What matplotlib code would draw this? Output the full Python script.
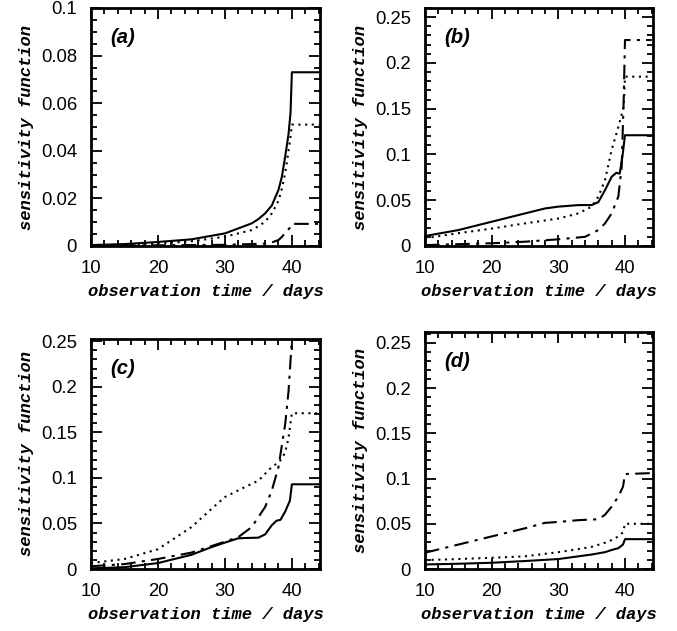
import numpy as np
import matplotlib
matplotlib.use("Agg")
import matplotlib.pyplot as plt
from matplotlib.ticker import MultipleLocator, FuncFormatter

# observation times (days), per panel
t_a = [10, 15, 20, 25, 30, 34, 35, 36, 37, 38, 38.5, 39, 39.5, 39.8, 40, 44]
solid_a = [0.0004, 0.0008, 0.0017, 0.0028, 0.0053, 0.0095, 0.0113, 0.0137, 0.017, 0.0236, 0.029, 0.0376, 0.047, 0.056, 0.073, 0.073]
dot_a = [0.0002, 0.0005, 0.001, 0.002, 0.0039, 0.0067, 0.0083, 0.0102, 0.0137, 0.019, 0.024, 0.0306, 0.040, 0.046, 0.051, 0.051]
dd_a = [0.0001, 0.0002, 0.0003, 0.0004, 0.0005, 0.0008, 0.0009, 0.001, 0.0015, 0.0025, 0.0038, 0.0055, 0.007, 0.008, 0.0093, 0.0093]

t_b = [10, 15, 20, 25, 28, 30, 33, 35, 36, 37, 38, 38.7, 39.2, 39.6, 40, 44]
solid_b = [0.0109, 0.0174, 0.0265, 0.0356, 0.041, 0.043, 0.0447, 0.0447, 0.048, 0.061, 0.0756, 0.080, 0.079, 0.097, 0.121, 0.121]
t_b2 = [10, 15, 20, 25, 30, 33, 35, 36, 37, 38, 39, 39.8, 40, 44]
dot_b = [0.0084, 0.014, 0.019, 0.0247, 0.030, 0.0356, 0.043, 0.054, 0.072, 0.105, 0.130, 0.152, 0.185, 0.185]
t_b3 = [10, 20, 25, 30, 34, 36, 37, 38, 39, 39.5, 39.8, 40, 44]
dd_b = [0.001, 0.003, 0.0047, 0.0073, 0.010, 0.0174, 0.0247, 0.0356, 0.054, 0.086, 0.159, 0.225, 0.225]

t_c = [10, 15, 20, 25, 28, 30, 32, 33, 35, 36, 37, 37.7, 38.3, 39, 39.7, 40, 44]
solid_c = [0.0007, 0.002, 0.0065, 0.0156, 0.024, 0.029, 0.0337, 0.034, 0.0344, 0.038, 0.048, 0.053, 0.054, 0.063, 0.075, 0.093, 0.093]
t_c2 = [10, 15, 20, 25, 28, 30, 33, 35, 37, 38, 38.5, 39, 39.5, 40, 44]
dot_c = [0.0065, 0.011, 0.0217, 0.046, 0.066, 0.079, 0.090, 0.097, 0.112, 0.117, 0.121, 0.128, 0.144, 0.171, 0.171]
t_c3 = [10, 15, 20, 25, 30, 32, 34, 36, 37, 38, 39, 39.5, 40, 44]
dd_c = [0.003, 0.0054, 0.011, 0.018, 0.030, 0.035, 0.046, 0.068, 0.086, 0.112, 0.159, 0.195, 0.252, 0.252]

t_d = [10, 15, 20, 25, 30, 33, 35, 37, 38, 39, 39.7, 40, 44]
solid_d = [0.005, 0.0058, 0.0069, 0.0088, 0.011, 0.014, 0.016, 0.0186, 0.021, 0.023, 0.027, 0.033, 0.033]
dot_d = [0.0099, 0.011, 0.0124, 0.014, 0.0186, 0.022, 0.0245, 0.029, 0.032, 0.036, 0.0405, 0.050, 0.050]
t_d3 = [10, 15, 20, 25, 28, 30, 33, 36, 37, 38, 39, 39.7, 40, 44]
dd_d = [0.018, 0.027, 0.036, 0.045, 0.051, 0.052, 0.054, 0.055, 0.060, 0.069, 0.080, 0.091, 0.105, 0.106]

panels = [
    ("(a)", [(t_a, solid_a), (t_a, dot_a), (t_a, dd_a)], 0.1, 0.02, 0.005),
    ("(b)", [(t_b, solid_b), (t_b2, dot_b), (t_b3, dd_b)], 0.26, 0.05, 0.01),
    ("(c)", [(t_c, solid_c), (t_c2, dot_c), (t_c3, dd_c)], 0.2525, 0.05, 0.01),
    ("(d)", [(t_d, solid_d), (t_d, dot_d), (t_d3, dd_d)], 0.262, 0.05, 0.01),
]

# axes rectangles in figure fraction (left, bottom, width, height)
rects = [
    (91 / 677, 1 - 246 / 631, 229 / 677, 238 / 631),
    (425 / 677, 1 - 246 / 631, 228 / 677, 238 / 631),
    (91 / 677, 1 - 569 / 631, 229 / 677, 230 / 631),
    (425 / 677, 1 - 569 / 631, 228 / 677, 237 / 631),
]

styles = ["-", (0, (1, 2.2)), (0, (7, 3, 1.5, 3))]

fig = plt.figure(figsize=(6.77, 6.31), dpi=100)
lab_font = dict(family="Liberation Mono", weight="bold", style="italic", size=12.3)

for (tag, series, ymax, major, minor), r in zip(panels, rects):
    ax = fig.add_axes(r)
    for (t, y), ls in zip(series, styles):
        ax.plot(t, y, color="black", lw=1.5, linestyle=ls)
    ax.set_xlim(10, 44.2)
    ax.set_ylim(0, ymax)
    ax.xaxis.set_major_locator(MultipleLocator(10))
    ax.xaxis.set_minor_locator(MultipleLocator(2))
    ax.yaxis.set_major_locator(MultipleLocator(major))
    ax.yaxis.set_minor_locator(MultipleLocator(minor))
    ax.yaxis.set_major_formatter(FuncFormatter(lambda v, p: "%g" % round(v, 4)))
    ax.tick_params(which="both", direction="in", top=True, right=True, width=1.3)
    ax.tick_params(which="major", length=8, labelsize=13.3, pad=10)
    ax.tick_params(which="minor", length=4)
    for s in ax.spines.values():
        s.set_linewidth(2)
    for lbl in ax.get_xticklabels() + ax.get_yticklabels():
        lbl.set_family("Liberation Sans")
    ax.set_xlabel("observation time / days", fontdict=lab_font, labelpad=5)
    ax.set_ylabel("sensitivity function", fontdict=lab_font, labelpad=5)
    ax.text(0.083, 0.915, tag, transform=ax.transAxes, ha="left", va="top",
            fontsize=14.5, fontweight="bold", fontstyle="italic", family="Liberation Sans")

fig.savefig("out.png", dpi=100)
